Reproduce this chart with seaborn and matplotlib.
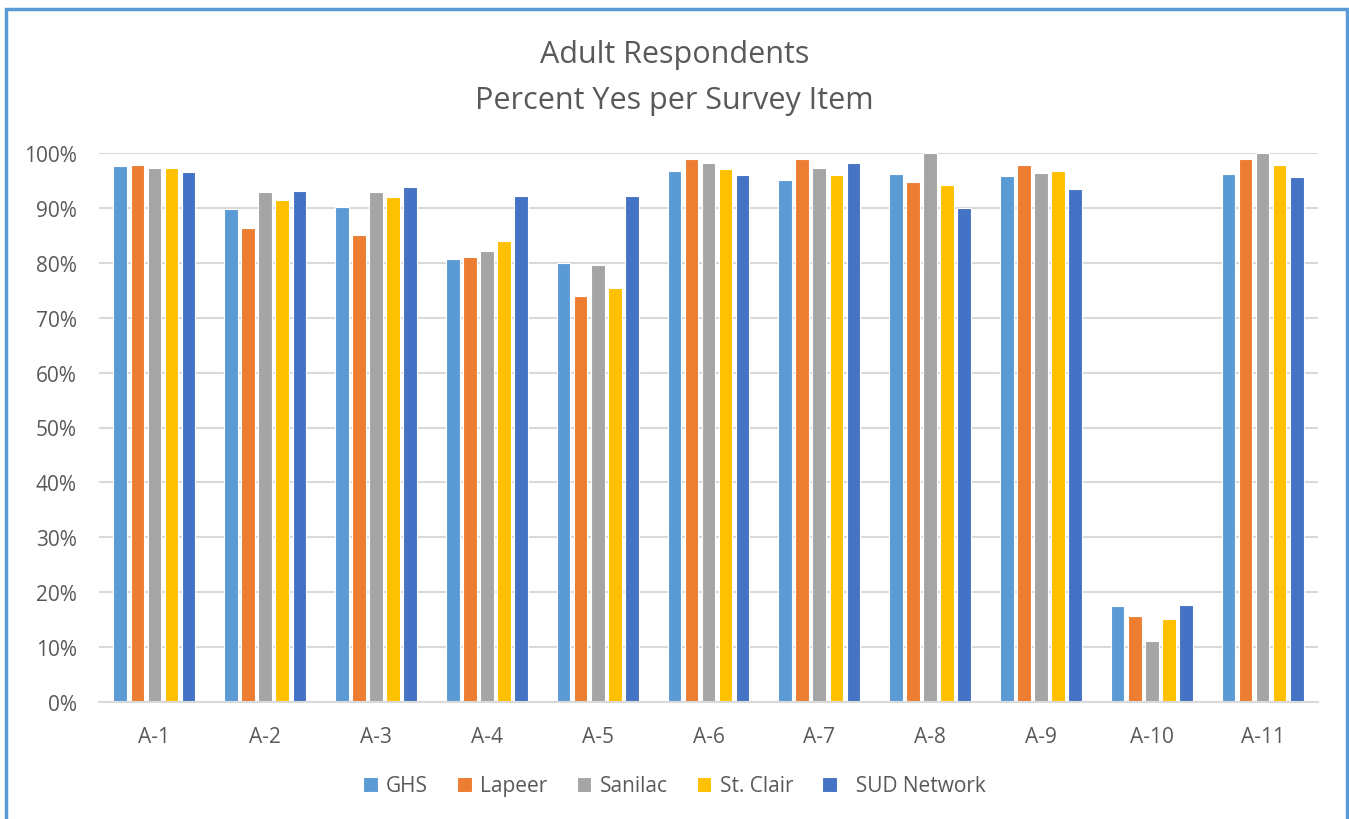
import matplotlib
matplotlib.use('Agg')
import matplotlib.pyplot as plt
import seaborn as sns
import pandas as pd
from matplotlib.patches import Rectangle
from matplotlib.ticker import PercentFormatter

# survey items and sites
items = ['A-1', 'A-2', 'A-3', 'A-4', 'A-5', 'A-6', 'A-7', 'A-8', 'A-9', 'A-10', 'A-11']
sites = ['GHS', 'Lapeer', 'Sanilac', 'St. Clair', 'SUD Network']

# percent yes
ghs = [97.6, 89.8, 90.1, 80.7, 79.9, 96.7, 95.0, 96.2, 95.9, 17.4, 96.1]
lapeer = [97.9, 86.3, 85.1, 81.1, 73.9, 98.9, 98.9, 94.7, 97.9, 15.6, 98.9]
sanilac = [97.2, 92.9, 92.9, 82.2, 79.6, 98.2, 97.3, 100.0, 96.3, 11.1, 100.0]
st_clair = [97.3, 91.4, 92.0, 84.0, 75.5, 97.0, 96.0, 94.1, 96.7, 15.1, 97.9]
sud_network = [96.5, 93.1, 93.8, 92.2, 92.2, 96.0, 98.1, 90.0, 93.4, 17.7, 95.7]

colors = ['#5B9BD5', '#ED7D31', '#A5A5A5', '#FFC000', '#4472C4']

rows = []
for site, vals in zip(sites, [ghs, lapeer, sanilac, st_clair, sud_network]):
    for item, v in zip(items, vals):
        rows.append({'Item': item, 'Site': site, 'Pct': v / 100})
df = pd.DataFrame(rows)

sns.set_style('white')
plt.rcParams['font.family'] = ['Open Sans', 'DejaVu Sans']
txt = '#595959'

fig = plt.figure(figsize=(13.49, 8.2), dpi=100)
ax = fig.add_axes([99 / 1349, 1 - 703 / 820, (1318 - 99) / 1349, (703 - 154) / 820])

sns.barplot(data=df, x='Item', y='Pct', hue='Site', order=items, hue_order=sites,
            palette=colors, width=0.77, gap=0.2, edgecolor='white', linewidth=0.8,
            saturation=1, ax=ax)

ax.set_ylim(0, 1)
ax.set_xlim(-0.5, len(items) - 0.5)
ax.yaxis.set_major_formatter(PercentFormatter(1.0, decimals=0))
ax.set_yticks([i / 10 for i in range(11)])
ax.grid(axis='y', color='#D9D9D9', linewidth=1.5)
ax.set_axisbelow(True)
for s in ['top', 'right', 'left']:
    ax.spines[s].set_visible(False)
ax.spines['bottom'].set_color('#D9D9D9')
ax.spines['bottom'].set_linewidth(1.5)
ax.tick_params(axis='both', length=0, labelsize=15, colors=txt)
ax.tick_params(axis='x', pad=17)
ax.tick_params(axis='y', pad=16)
ax.set_xlabel('')
ax.set_ylabel('')

handles, labels = ax.get_legend_handles_labels()
labels = [l if l != 'SUD Network' else '  SUD Network' for l in labels]
ax.legend(handles, labels, ncol=5, frameon=False, loc='center',
          bbox_to_anchor=(0.5, 1 - 787 / 820), bbox_transform=fig.transFigure,
          fontsize=15, labelcolor=txt, handlelength=0.7, handleheight=0.7,
          handletextpad=0.4, columnspacing=1.4)

fig.text(0.5, 1 - 55 / 820, 'Adult Respondents', ha='center', va='center',
         fontsize=22, color=txt)
fig.text(0.5, 1 - 101 / 820, 'Percent Yes per Survey Item', ha='center', va='center',
         fontsize=22, color=txt)

# outer chart border (runs off the bottom of the image)
fig.patches.append(Rectangle((6 / 1349, -0.05), (1347 - 6) / 1349, 1.05 - 10 / 820,
                             transform=fig.transFigure, fill=False,
                             edgecolor='#5B9BD5', linewidth=2.5))

fig.savefig('out.png', dpi=100)
